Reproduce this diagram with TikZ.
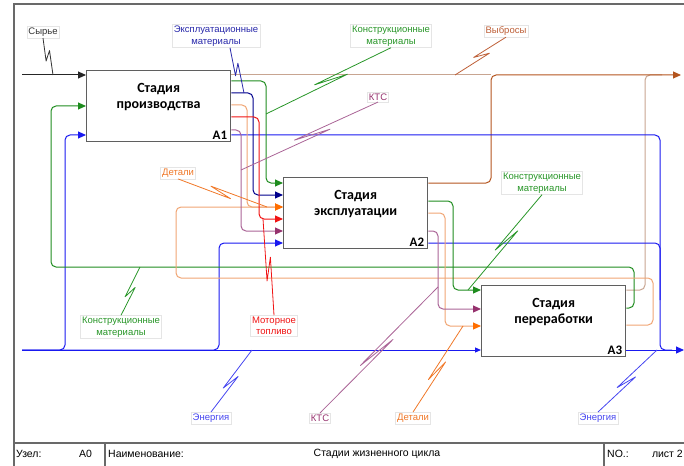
\documentclass[tikz,border=0pt]{standalone}
\usepackage{fontspec}
\setmainfont{Liberation Sans}
\newfontfamily\boxfont{Carlito}
\usetikzlibrary{arrows.meta,calc}

\definecolor{frameg}{RGB}{105,105,105}
\definecolor{boxg}{RGB}{95,95,95}
\definecolor{cgreen}{RGB}{30,140,30}
\definecolor{lgreen}{RGB}{40,150,40}
\definecolor{cnavy}{RGB}{0,0,140}
\definecolor{lnavy}{RGB}{40,40,170}
\definecolor{cblue}{RGB}{25,25,240}
\definecolor{lblue}{RGB}{70,70,240}
\definecolor{corange}{RGB}{255,110,0}
\definecolor{lorange}{RGB}{240,165,115}
\definecolor{tlorange}{RGB}{240,120,40}
\definecolor{cred}{RGB}{240,20,20}
\definecolor{cpurple}{RGB}{150,50,110}
\definecolor{lpurple}{RGB}{170,100,150}
\definecolor{csienna}{RGB}{180,85,30}
\definecolor{ctan}{RGB}{200,165,145}
\definecolor{lsienna}{RGB}{190,95,55}

\tikzset{
  box/.style={draw=boxg, line width=1.3pt, fill=white, minimum width=144pt,
    minimum height=71pt, anchor=north west, inner sep=0pt},
  title/.style={font=\boxfont\bfseries\fontsize{14}{16}\selectfont, align=center},
  num/.style={font=\boxfont\bfseries\fontsize{13}{13}\selectfont, anchor=south east, inner sep=1pt},
  lab/.style={font=\fontsize{9.5}{11.5}\selectfont, align=center, fill=white,
    draw=black!10, line width=0.4pt, inner sep=1.5pt},
  foot/.style={font=\fontsize{10.5}{12}\selectfont, inner sep=0pt},
  flow/.style={line width=1pt, rounded corners=5pt},
  tip/.style={-{Triangle[length=8pt,width=7pt]}},
  sq/.style={line width=0.8pt, line join=round},
}

% IDEF0 squiggle joining a label to its arrow
\newcommand\squiggle[3]{%
  \draw[sq,#1] (#2) -- ($(#2)!0.60!(#3)!3pt!-90:(#3)$)
    -- ($(#2)!0.36!(#3)!3pt!90:(#3)$) -- (#3);}

\begin{document}
\begin{tikzpicture}[x=1pt,y=-1pt]
\useasboundingbox (0,0) rectangle (684,465);

% sheet frame and footer
\draw[frameg, line width=1.5pt] (684,4) -- (14,4) -- (14,466);
\draw[frameg, line width=1.2pt] (14,443) -- (684,443);
\draw[frameg, line width=1.2pt] (105,443) -- (105,466);
\draw[frameg, line width=1.2pt] (604,443) -- (604,466);
\node[foot, anchor=west] (fUz) at (16,454) {Узел:};
\node[foot, anchor=west] (fA0) at (79,454) {A0};
\node[foot, anchor=west] (fName) at (108,454) {Наименование:};
\node[foot] (fTitle) at (377,454) {Стадии жизненного цикла};
\node[foot, anchor=west] (fNo) at (607,454) {NO.:};
\node[foot, anchor=east] (fList) at (683,454) {лист 2};

% activity boxes
\node[box] (A1) at (86,70) {};
\node[box] (A2) at (283,177) {};
\node[box] (A3) at (481,285) {};
\node[title] (t1) at ($(A1.north)+(0,27)$) {Стадия\\производства};
\node[title] (t2) at ($(A2.north)+(0,27)$) {Стадия\\эксплуатации};
\node[title] (t3) at ($(A3.north)+(0,27)$) {Стадия\\переработки};
\node[num] (n1) at ($(A1.south east)+(-3,-2)$) {A1};
\node[num] (n2) at ($(A2.south east)+(-3,-2)$) {A2};
\node[num] (n3) at ($(A3.south east)+(-3,-2)$) {A3};

% raw material input
\coordinate (rawIn) at (22,75);
\draw[flow, black!85, tip] (rawIn) -- (A1.west |- rawIn);

% emissions (outputs of all stages)
\coordinate (emOut) at (681,75);
\draw[flow, ctan] (A1.east |- 0,75) -- (491,75);
\draw[flow, ctan] (A3.east |- 0,290) -- (645,290) -- (645,75) -- (662,75);
\draw[flow, csienna, tip] (A2.east |- 0,183) -- (491,183) -- (491,75) -- (emOut);

% energy
\coordinate (enIn) at (22,350);
\coordinate (enOut) at (684,350);
\draw[flow, cblue, tip] (enIn) -- (65,350) -- (65,135) -- (A1.west |- 0,135);
\draw[flow, cblue, tip] (enIn) -- (219,350) -- (219,243) -- (A2.west |- 0,243);
\draw[flow, cblue, -{Triangle[length=6pt,width=5pt]}] (enIn) -- (A3.west |- 0,350);
\draw[flow, cblue] (A1.east |- 0,135) -- (660,135) -- (660,350) -- (672,350);
\draw[flow, cblue] (A2.east |- 0,243) -- (660,243) -- (660,300);
\draw[flow, cblue, tip] (A3.east |- 0,350) -- (enOut);

% construction materials fed back from recycling
\draw[flow, cgreen, tip] (A3.east |- 0,308) -- (634,308) -- (634,267) -- (51,267)
  -- (51,106) -- (A1.west |- 0,106);

% parts fed back from recycling
\draw[flow, lorange, -{Triangle[length=8pt,width=7pt,color=corange]}]
  (A3.east |- 0,325) -- (653,325) -- (653,278) -- (176,278) -- (176,207) -- (A2.west |- 0,207);

% production -> operation
\draw[flow, cgreen, tip] (A1.east |- 0,81) -- (266,81) -- (266,183) -- (A2.west |- 0,183);
\draw[flow, cnavy, tip] (A1.east |- 0,93) -- (253,93) -- (253,195) -- (A2.west |- 0,195);
\draw[flow, lorange, -{Triangle[length=8pt,width=7pt,color=corange]}]
  (A1.east |- 0,105) -- (247,105) -- (247,207) -- (A2.west |- 0,207);
\draw[flow, cred, tip] (A1.east |- 0,117) -- (259,117) -- (259,219) -- (A2.west |- 0,219);
\draw[flow, lpurple, -{Triangle[length=8pt,width=7pt,color=cpurple]}]
  (A1.east |- 0,130) -- (241,130) -- (241,231) -- (A2.west |- 0,231);

% operation -> recycling
\draw[flow, cgreen, tip] (A2.east |- 0,201) -- (453,201) -- (453,290) -- (A3.west |- 0,290);
\draw[flow, lorange, -{Triangle[length=8pt,width=7pt,color=corange]}]
  (A2.east |- 0,213) -- (445,213) -- (445,326) -- (A3.west |- 0,326);
\draw[flow, lpurple, -{Triangle[length=8pt,width=7pt,color=cpurple]}]
  (A2.east |- 0,231) -- (438,231) -- (438,309) -- (A3.west |- 0,309);

% arrow labels
\node[lab, text=black!80] (lRaw) at (43,32) {Сырье};
\node[lab, text=lnavy] (lExp) at (216,36) {Эксплуатационные\\материалы};
\node[lab, text=lgreen] (lKon1) at (391,36) {Конструкционные\\материалы};
\node[lab, text=lsienna] (lVyb) at (506,31) {Выбросы};
\node[lab, text=cpurple] (lKts1) at (378,97) {КТС};
\node[lab, text=tlorange] (lDet1) at (178,173) {Детали};
\node[lab, text=lgreen] (lKon2) at (542,183) {Конструкционные\\материалы};
\node[lab, text=lgreen] (lKon3) at (121,327) {Конструкционные\\материалы};
\node[lab, text=cred] (lMot) at (274,326) {Моторное\\топливо};
\node[lab, text=lblue] (lEn1) at (211,418) {Энергия};
\node[lab, text=cpurple] (lKts2) at (320,418) {КТС};
\node[lab, text=tlorange] (lDet2) at (413,418) {Детали};
\node[lab, text=lblue] (lEn2) at (598,418) {Энергия};

% squiggles
\coordinate (sRaw) at (53,75);
\coordinate (sExp) at (244,93);
\coordinate (sKon1) at (266,114);
\coordinate (sVyb) at (455,75);
\coordinate (sKts1) at (241,170);
\coordinate (sDet1) at (267,207);
\coordinate (sKon2) at (468,290);
\coordinate (sKon3) at (140,267);
\coordinate (sMot) at (263,219);
\coordinate (sEn1) at (252,350);
\coordinate (sKts2) at (438,287);
\coordinate (sDet2) at (463,326);
\coordinate (sEn2) at (657,350);
\squiggle{black!80}{lRaw.south}{sRaw}
\squiggle{lnavy}{$(lExp.south)+(14,0)$}{sExp}
\squiggle{lgreen}{lKon1.south}{sKon1}
\squiggle{lsienna}{lVyb.south}{sVyb}
\squiggle{lpurple}{lKts1.south}{sKts1}
\squiggle{tlorange}{lDet1.south}{sDet1}
\squiggle{lgreen}{lKon2.south}{sKon2}
\squiggle{lgreen}{lKon3.north}{sKon3}
\squiggle{cred}{lMot.north}{sMot}
\squiggle{lblue}{lEn1.north}{sEn1}
\squiggle{lpurple}{lKts2.north}{sKts2}
\squiggle{tlorange}{lDet2.north}{sDet2}
\squiggle{lblue}{lEn2.north}{sEn2}
\end{tikzpicture}
\end{document}
